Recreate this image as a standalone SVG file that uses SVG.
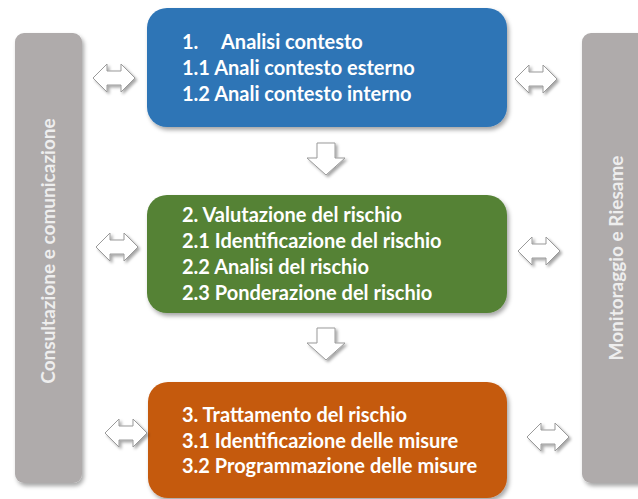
<svg xmlns="http://www.w3.org/2000/svg" width="638" height="499" viewBox="0 0 638 499">
<defs>
<filter id="sh" x="-10%" y="-10%" width="130%" height="130%">
<feDropShadow dx="2" dy="3" stdDeviation="2" flood-color="#000" flood-opacity="0.35"/>
</filter>
<filter id="ash" x="-30%" y="-30%" width="170%" height="170%">
<feDropShadow dx="2" dy="2" stdDeviation="1.5" flood-color="#000" flood-opacity="0.35"/>
</filter>
<path id="dbl" d="M-21,0 L-7,-14 L-7,-7 L7,-7 L7,-14 L21,0 L7,14 L7,7 L-7,7 L-7,14 Z"/>
<path id="down" d="M-9,0 L9,0 L9,15 L19,15 L0,32 L-19,15 L-9,15 Z"/>
</defs>
<style>
.bar{fill:#AFABAB;filter:url(#sh)}
.box{filter:url(#sh)}
.t{font-family:Lato,"Open Sans",sans-serif;font-weight:bold;font-size:20px;fill:#ffffff}
.vt{font-family:Lato,"Open Sans",sans-serif;font-weight:bold;font-size:19px;fill:#eeeeee;text-anchor:middle}
.arr{fill:#ffffff;stroke:#9a9a9a;stroke-width:1;filter:url(#ash)}
</style>
<rect width="638" height="499" fill="#ffffff"/>
<g id="consultazione">
<rect class="bar" x="15" y="33" width="67" height="450" rx="9"/>
<text class="vt" transform="translate(55,251) rotate(-90)">Consultazione e comunicazione</text>
</g>
<g id="monitoraggio">
<rect class="bar" x="582" y="33" width="70" height="450" rx="9"/>
<text class="vt" transform="translate(623,258) rotate(-90)">Monitoraggio e Riesame</text>
</g>
<g id="analisi">
<rect class="box" x="147" y="8" width="360" height="119" rx="20" fill="#2E75B6"/>
<text class="t" x="182" y="49">1.<tspan x="221">Analisi contesto</tspan></text>
<text class="t" x="182" y="75">1.1 Anali contesto esterno</text>
<text class="t" x="182" y="101">1.2 Anali contesto interno</text>
</g>
<g id="valutazione">
<rect class="box" x="147" y="195" width="360" height="118" rx="20" fill="#548235"/>
<text class="t" x="182" y="222">2. Valutazione del rischio</text>
<text class="t" x="182" y="248">2.1 Identificazione del rischio</text>
<text class="t" x="182" y="274">2.2 Analisi del rischio</text>
<text class="t" x="182" y="300">2.3 Ponderazione del rischio</text>
</g>
<g id="trattamento">
<rect class="box" x="148" y="382" width="359" height="116" rx="20" fill="#C55A11"/>
<text class="t" x="182" y="422">3. Trattamento del rischio</text>
<text class="t" x="182" y="448">3.1 Identificazione delle misure</text>
<text class="t" x="182" y="473">3.2 Programmazione delle misure</text>
</g>
<g id="connectors">
<use href="#dbl" class="arr" transform="translate(114,78)"/>
<use href="#dbl" class="arr" transform="translate(117,247)"/>
<use href="#dbl" class="arr" transform="translate(126,433)"/>
<use href="#dbl" class="arr" transform="translate(536,79)"/>
<use href="#dbl" class="arr" transform="translate(539,251)"/>
<use href="#dbl" class="arr" transform="translate(548,437)"/>
<use href="#down" class="arr" transform="translate(326,143)"/>
<use href="#down" class="arr" transform="translate(326,328)"/>
</g>
</svg>
